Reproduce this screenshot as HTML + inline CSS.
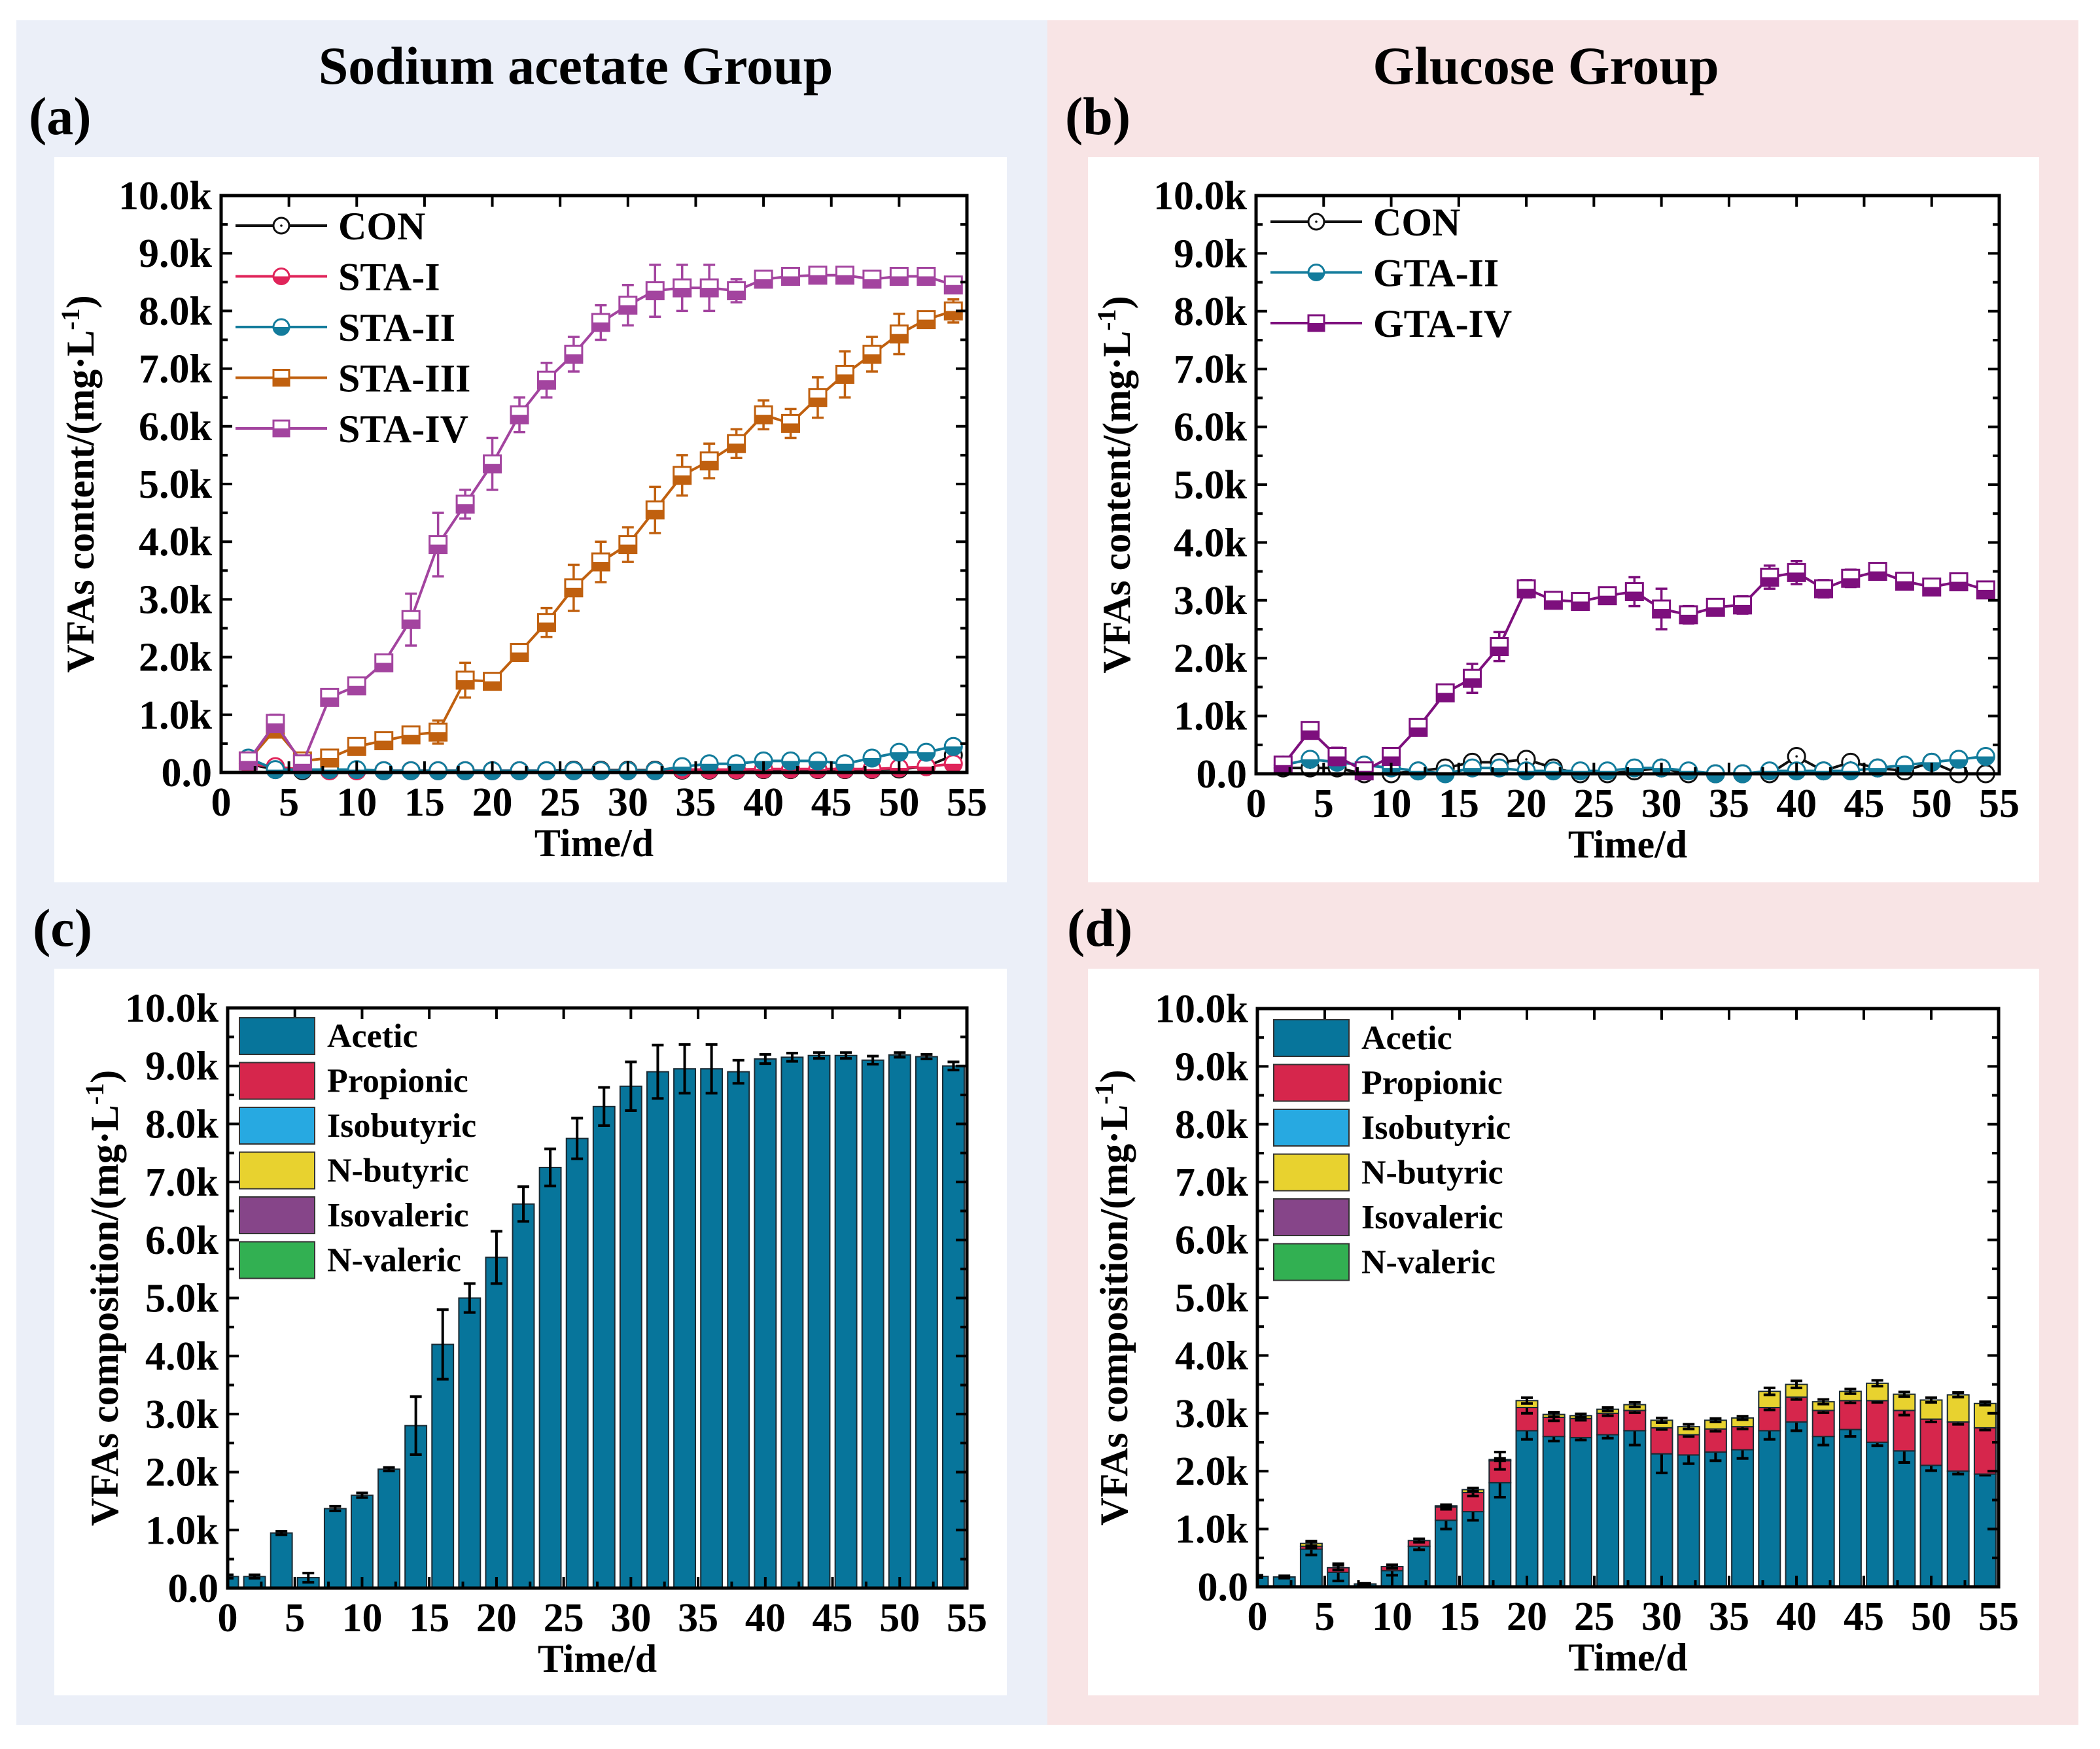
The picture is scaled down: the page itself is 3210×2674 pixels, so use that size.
<!DOCTYPE html>
<html><head><meta charset="utf-8">
<style>
html,body{margin:0;padding:0;background:#fff;}
svg{display:block;}
text{font-family:"Liberation Serif",serif;font-weight:bold;fill:#000;}
</style></head>
<body>
<svg id="fig" width="3210" height="2674" viewBox="0 0 3210 2674" xmlns="http://www.w3.org/2000/svg">
<rect x="0" y="0" width="3210" height="2674" fill="#ffffff"/>
<rect x="25" y="31" width="1576" height="2606" fill="#ebeff8"/>
<rect x="1601" y="31" width="1576" height="2606" fill="#f8e4e5"/>
<rect x="83" y="240" width="1456" height="1109" fill="#fff"/>
<rect x="1663" y="240" width="1454" height="1109" fill="#fff"/>
<rect x="83" y="1481" width="1456" height="1111" fill="#fff"/>
<rect x="1663" y="1481" width="1454" height="1111" fill="#fff"/>
<text x="880" y="128" font-size="82" text-anchor="middle">Sodium acetate Group</text>
<text x="2363" y="128" font-size="82" text-anchor="middle">Glucose Group</text>
<text x="44" y="205" font-size="82">(a)</text>
<text x="1628" y="205" font-size="82">(b)</text>
<text x="50" y="1446" font-size="82">(c)</text>
<text x="1631" y="1446" font-size="82">(d)</text>
</svg>
<script>
// ---- data ----
const days = [2,4,6,8,10,12,14,16,18,20,22,24,26,28,30,32,34,36,38,40,42,44,46,48,50,52,54];
const yTicks = [0,1000,2000,3000,4000,5000,6000,7000,8000,9000,10000];
const yTickLabels = ["0.0","1.0k","2.0k","3.0k","4.0k","5.0k","6.0k","7.0k","8.0k","9.0k","10.0k"];
const xTicks = [0,5,10,15,20,25,30,35,40,45,50,55];

const aCON   = [150,50,30,30,30,30,30,30,30,30,30,30,40,40,40,40,40,40,40,50,50,50,50,50,60,100,300];
const aSTA1  = [150,100,50,30,30,30,30,30,30,30,30,30,30,30,30,30,50,50,50,60,60,60,60,60,80,100,150];
const aSTA2  = [250,50,50,50,50,30,30,30,30,30,30,30,30,30,30,30,100,150,150,200,200,200,150,250,350,350,450];
const aSTA3  = [200,750,200,250,450,550,650,700,1600,1580,2080,2600,3200,3650,3950,4550,5150,5400,5700,6200,6050,6500,6900,7250,7600,7850,8000];
const aSTA3e = [0,100,50,100,100,100,100,200,300,100,100,250,400,350,300,400,350,300,250,250,250,350,400,300,350,100,200];
const aSTA4  = [200,850,150,1300,1500,1900,2650,3950,4650,5350,6200,6800,7250,7800,8100,8350,8400,8400,8350,8550,8600,8620,8620,8550,8600,8600,8450];
const aSTA4e = [0,150,0,100,80,80,450,550,250,450,300,300,300,300,350,450,400,400,200,100,50,50,50,50,50,50,80];

const bCON   = [100,100,100,0,0,50,100,200,200,250,100,0,0,50,100,0,0,0,0,300,50,200,100,50,200,0,0];
const bGTA2  = [150,250,200,150,100,50,0,100,100,50,50,50,50,100,100,50,0,0,50,50,50,50,100,150,200,250,300];
const bGTA4  = [150,750,300,50,300,800,1400,1650,2200,3200,3000,2980,3080,3150,2850,2750,2880,2920,3400,3480,3200,3380,3500,3330,3230,3320,3180];
const bGTA4e = [80,100,150,50,80,80,80,250,250,150,100,100,100,250,350,150,100,150,200,200,150,150,100,100,80,100,100];

const barDays = [0,2,4,6,8,10,12,14,16,18,20,22,24,26,28,30,32,34,36,38,40,42,44,46,48,50,52,54];
const cAcetic = [200,200,950,180,1370,1600,2050,2800,4200,5000,5700,6620,7250,7750,8300,8650,8900,8950,8950,8900,9120,9150,9180,9180,9100,9190,9160,9000];
const cAceticErr = [30,30,30,80,40,40,30,500,600,250,450,300,320,350,330,420,460,420,420,200,80,70,50,50,70,40,40,70];
const dAcetic = [180,170,650,250,50,280,700,1150,1300,1800,2700,2600,2580,2630,2700,2300,2280,2330,2370,2700,2850,2600,2720,2500,2350,2100,2000,1950];
const dAceticErr = [20,20,100,150,10,80,60,150,150,250,150,80,40,60,250,330,150,150,150,150,150,150,120,60,200,90,50,20];
const dPropionic = [0,0,50,80,0,70,100,230,330,380,400,330,330,370,350,450,350,400,400,400,430,450,500,720,700,800,850,800];
const dPropErr = [0,0,30,40,0,30,30,40,60,150,100,60,30,40,40,30,30,40,40,40,40,40,40,30,80,50,40,40];
const dNButyric = [0,0,50,0,0,0,0,20,50,20,120,50,50,70,100,130,140,150,150,280,220,150,160,300,280,330,470,420];
const dButErr = [0,0,40,0,0,0,0,20,30,20,50,40,30,30,40,40,40,30,30,60,60,40,40,50,40,40,40,30];

// ---- helpers ----
const NS = "http://www.w3.org/2000/svg";
const svg = document.getElementById("fig");
function mk(tag, attrs, parent){ const e=document.createElementNS(NS,tag); for(const k in attrs) e.setAttribute(k,attrs[k]); (parent||svg).appendChild(e); return e; }
function makeAxes(f){ return { xs:v=>f.x0+v/55*(f.x1-f.x0), ys:v=>f.y1-v/10000*(f.y1-f.y0) }; }

function drawAxes(f, name, ytitle){
  const {xs,ys}=makeAxes(f);
  const g=mk("g",{});
  
  
  for(let v=500; v<10000; v+=1000){ mk("line",{x1:f.x0,x2:f.x0+10,y1:ys(v),y2:ys(v),stroke:"#000","stroke-width":4},g); mk("line",{x1:f.x1,x2:f.x1-10,y1:ys(v),y2:ys(v),stroke:"#000","stroke-width":4},g); }
  yTicks.forEach((v,i)=>{
    mk("line",{x1:f.x0,x2:f.x0+17,y1:ys(v),y2:ys(v),stroke:"#000","stroke-width":4},g);
    mk("line",{x1:f.x1,x2:f.x1-17,y1:ys(v),y2:ys(v),stroke:"#000","stroke-width":4},g);
    const t=mk("text",{x:f.x0-14,y:ys(v)+21,"font-size":62,"text-anchor":"end"},g);
    t.textContent=yTickLabels[i];
    
    
  });
  xTicks.forEach(v=>{
    mk("line",{x1:xs(v),x2:xs(v),y1:f.y1,y2:f.y1-17,stroke:"#000","stroke-width":4},g);
    mk("line",{x1:xs(v),x2:xs(v),y1:f.y0,y2:f.y0+17,stroke:"#000","stroke-width":4},g);
    if(v<55){ mk("line",{x1:xs(v+2.5),x2:xs(v+2.5),y1:f.y1,y2:f.y1-10,stroke:"#000","stroke-width":4},g); }
    const t=mk("text",{x:xs(v),y:f.y1+66,"font-size":62,"text-anchor":"middle"},g);
    t.textContent=String(v);
    
    
  });
  mk("rect",{x:f.x0,y:f.y0,width:f.x1-f.x0,height:f.y1-f.y0,fill:"none",stroke:"#000","stroke-width":5},g);
  const xt=mk("text",{x:(f.x0+f.x1)/2,y:f.y1+128,"font-size":60,"text-anchor":"middle"},g);
  xt.textContent="Time/d";
  
  
  const cy=(f.y0+f.y1)/2, cx=f.ytx;
  const yt=mk("text",{x:cx,y:cy,"font-size":60,"text-anchor":"middle",transform:`rotate(-90 ${cx} ${cy})`},g);
  
  
  yt.innerHTML=ytitle+'/(mg·L<tspan dy="-22" font-size="40">-1</tspan><tspan dy="22">)</tspan>';
}

function marker(g, x, y, color, shape, r){
  if(shape==="con"){
    mk("circle",{cx:x,cy:y,r:r,fill:"#fff",stroke:color,"stroke-width":3},g);
    mk("circle",{cx:x,cy:y,r:1.8,fill:color},g);
  } else if(shape==="circle"){
    mk("circle",{cx:x,cy:y,r:r,fill:"#fff",stroke:color,"stroke-width":3},g);
    mk("path",{d:`M${x-r},${y} A${r},${r} 0 0 0 ${x+r},${y} Z`,fill:color},g);
  } else {
    mk("rect",{x:x-r,y:y-r,width:2*r,height:2*r,fill:"#fff",stroke:color,"stroke-width":3},g);
    mk("rect",{x:x-r,y:y,width:2*r,height:r,fill:color},g);
  }
}

function drawSeries(f, vals, errs, color, shape, name){
  const {xs,ys}=makeAxes(f);
  const g=mk("g",{});
  
  
  const pts=days.map((d,i)=>xs(d)+","+ys(vals[i])).join(" ");
  mk("polyline",{points:pts,fill:"none",stroke:color,"stroke-width":4},g);
  if(errs){ days.forEach((d,i)=>{ if(errs[i]>0){ const x=xs(d),y1=ys(vals[i]-errs[i]),y2=ys(vals[i]+errs[i]);
    mk("line",{x1:x,x2:x,y1:y1,y2:y2,stroke:color,"stroke-width":3.5},g);
    mk("line",{x1:x-9,x2:x+9,y1:y1,y2:y1,stroke:color,"stroke-width":3.5},g);
    mk("line",{x1:x-9,x2:x+9,y1:y2,y2:y2,stroke:color,"stroke-width":3.5},g);} }); }
  days.forEach((d,i)=>{
    const m=mk("g",{},g);
    
    
    marker(m, xs(d), ys(vals[i]), color, shape, 13);
  });
}

function lineLegend(x, y0, items){
  items.forEach((it,i)=>{
    const y=y0+i*77.5;
    const g=mk("g",{});
    
    
    mk("line",{x1:x,x2:x+140,y1:y,y2:y,stroke:it[1],"stroke-width":4},g);
    marker(g, x+70, y, it[1], it[2], 12);
    const t=mk("text",{x:x+157,y:y+21,"font-size":60},g);
    t.textContent=it[0];
  });
}

function barLegend(x, y0){
  const items=[["Acetic","#07759b"],["Propionic","#d6264c"],["Isobutyric","#27a9e1"],["N-butyric","#e8d22f"],["Isovaleric","#864589"],["N-valeric","#32b052"]];
  items.forEach((it,i)=>{
    const y=y0+i*68.5;
    const g=mk("g",{});
    
    
    mk("rect",{x:x,y:y,width:115,height:56,fill:it[1],stroke:"#333","stroke-width":2},g);
    const t=mk("text",{x:x+134,y:y+45,"font-size":52},g);
    t.textContent=it[0];
  });
}

function drawBars(f, stacks, clipId, name){
  const {xs,ys}=makeAxes(f);
  const cp=mk("clipPath",{id:clipId});
  mk("rect",{x:f.x0,y:f.y0,width:f.x1-f.x0,height:f.y1-f.y0},cp);
  const g=mk("g",{"clip-path":`url(#${clipId})`});
  
  
  const w=xs(1.6)-xs(0);
  barDays.forEach((d,i)=>{
    let base=0;
    stacks.forEach(s=>{
      const v=s.vals[i];
      if(v>0){
        const r=mk("rect",{x:xs(d)-w/2,y:ys(base+v),width:w,height:ys(base)-ys(base+v),fill:s.color,stroke:"#1a2a33","stroke-width":2},g);
        
        
      }
      base+=v;
      if(s.err && s.err[i]>0 && v>0){
        const x=xs(d),y1=ys(base-s.err[i]),y2=ys(base+s.err[i]);
        mk("line",{x1:x,x2:x,y1:y1,y2:y2,stroke:"#000","stroke-width":4},g);
        mk("line",{x1:x-9,x2:x+9,y1:y1,y2:y1,stroke:"#000","stroke-width":4},g);
        mk("line",{x1:x-9,x2:x+9,y1:y2,y2:y2,stroke:"#000","stroke-width":4},g);
      }
    });
  });
}

// ---- panels ----
const FA={x0:338,x1:1478,y0:299,y1:1181,ytx:143};
const FB={x0:1920,x1:3056,y0:299,y1:1183,ytx:1727};
const FC={x0:348,x1:1478,y0:1541,y1:2428,ytx:180};
const FD={x0:1922,x1:3055,y0:1542,y1:2426,ytx:1723};

drawSeries(FA, aCON, null, "#111", "con", "con-a");
drawSeries(FA, aSTA1, null, "#e0245a", "circle", "sta-i");
drawSeries(FA, aSTA2, null, "#137c9c", "circle", "sta-ii");
drawSeries(FA, aSTA3, aSTA3e, "#c0600f", "square", "sta-iii");
drawSeries(FA, aSTA4, aSTA4e, "#a3449f", "square", "sta-iv");
drawAxes(FA, "panel-a", "VFAs content");
lineLegend(360, 345, [["CON","#111","con"],["STA-I","#e0245a","circle"],["STA-II","#137c9c","circle"],["STA-III","#c0600f","square"],["STA-IV","#a3449f","square"]]);

drawSeries(FB, bCON, null, "#111", "con", "con-b");
drawSeries(FB, bGTA2, null, "#137c9c", "circle", "gta-ii");
drawSeries(FB, bGTA4, bGTA4e, "#7d0f7d", "square", "gta-iv");
drawAxes(FB, "panel-b", "VFAs content");
lineLegend(1942, 339, [["CON","#111","con"],["GTA-II","#137c9c","circle"],["GTA-IV","#7d0f7d","square"]]);

drawBars(FC, [{vals:cAcetic,err:cAceticErr,color:"#07759b",name:"acetic"}], "clipC", "panel-c");
drawAxes(FC, "panel-c", "VFAs composition");
barLegend(366, 1556);

drawBars(FD, [{vals:dAcetic,err:dAceticErr,color:"#07759b",name:"acetic"},{vals:dPropionic,err:dPropErr,color:"#d6264c",name:"propionic"},{vals:dNButyric,err:dButErr,color:"#e8d22f",name:"n-butyric"}], "clipD", "panel-d");
drawAxes(FD, "panel-d", "VFAs composition");
barLegend(1947, 1559);
</script>
</body></html>
